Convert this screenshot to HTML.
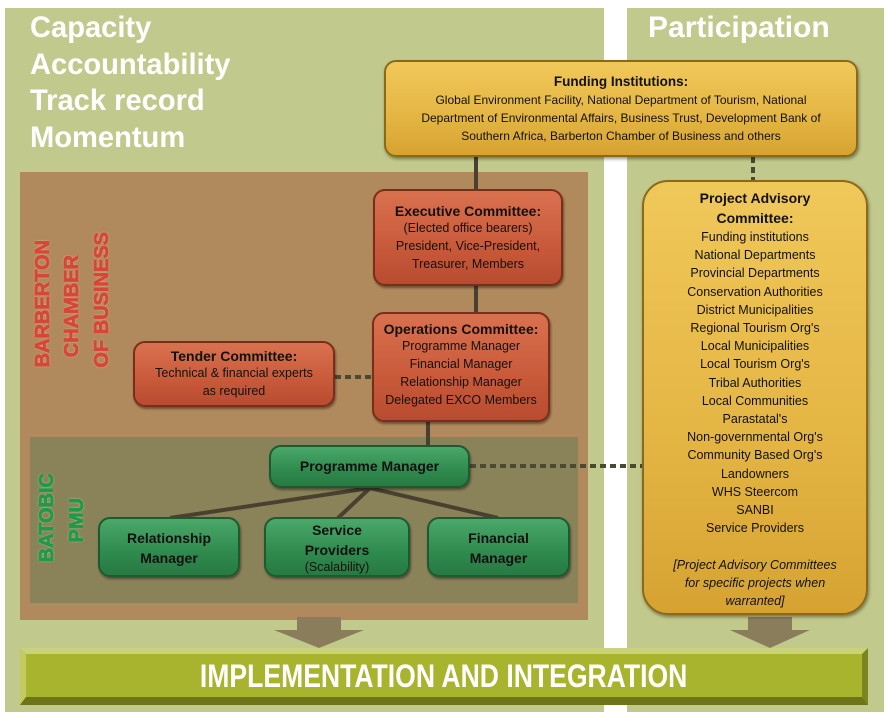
<!DOCTYPE html>
<html><head><meta charset="utf-8"><style>
*{margin:0;padding:0;box-sizing:border-box}
body{width:890px;height:717px;background:#fff;position:relative;overflow:hidden;font-family:"Liberation Sans",sans-serif}
.a{position:absolute}
.box{position:absolute;border-radius:12px;text-align:center;color:#111}
.or{background:linear-gradient(#d9714f,#c85a3a 60%,#b84c30);border:2px solid #7a2e1a;box-shadow:1px 2px 2px rgba(0,0,0,.4)}
.gr{background:linear-gradient(#4aa86a,#2f8a4e 60%,#277a42);border:2px solid #1d5a30;box-shadow:1px 2px 2px rgba(0,0,0,.4)}
.yl{background:linear-gradient(#f0c85a,#e4b543 60%,#d6a332);border:2px solid #8a6a1a;box-shadow:1px 2px 3px rgba(0,0,0,.4)}
.t{font-size:12.5px;line-height:18px}
.b{font-weight:bold;font-size:14px}
.vt{position:absolute;writing-mode:vertical-rl;transform:rotate(180deg);font-weight:bold;font-size:20px;-webkit-text-stroke:0.8px currentColor}
.red{color:#d6473a;text-shadow:0 0 2px #e8c6a0,0 0 1px #e8c6a0}
.grn{color:#1f9a4a;text-shadow:0 0 2px #d8d0a0,0 0 1px #d8d0a0}
.head{position:absolute;color:#fff;font-weight:bold;font-size:30px;line-height:36.5px}
</style></head><body>
<div class="a" style="left:5px;top:8px;width:599px;height:704px;background:#c2c98c"></div>
<div class="a" style="left:627px;top:8px;width:257px;height:704px;background:#c2c98c"></div>
<div class="head" style="left:30px;top:10px;transform:scaleX(0.97);transform-origin:left">Capacity<br>Accountability<br>Track record<br>Momentum</div>
<div class="head" style="left:648px;top:10px;font-size:30px">Participation</div>

<div class="a" style="left:20px;top:172px;width:568px;height:448px;background:#b08a5c"></div>
<div class="a" style="left:30px;top:437px;width:548px;height:166px;background:#8a8258"></div>

<div class="vt red" style="left:32px;top:240px;">BARBERTON</div>
<div class="vt red" style="left:61px;top:255px;">CHAMBER</div>
<div class="vt red" style="left:91px;top:232px;">OF BUSINESS</div>
<div class="vt grn" style="left:36px;top:473px;">BATOBIC</div>
<div class="vt grn" style="left:66px;top:498px;">PMU</div>

<svg class="a" style="left:0;top:0" width="890" height="717">
<g stroke="#4a4030" stroke-width="4">
<line x1="476" y1="156" x2="476" y2="190"/>
<line x1="476" y1="285" x2="476" y2="313"/>
<line x1="428" y1="420" x2="428" y2="446"/>
<line x1="370" y1="488" x2="170" y2="518"/>
<line x1="370" y1="488" x2="338" y2="518"/>
<line x1="370" y1="488" x2="498" y2="518"/>
</g>
<g stroke="#4a4a30" stroke-width="4" stroke-dasharray="6,4">
<line x1="335" y1="377" x2="372" y2="377"/>
<line x1="470" y1="466" x2="642" y2="466"/>
<line x1="753" y1="157" x2="753" y2="180"/>
</g>
<polygon points="297,617 341,617 341,630 364,630 319,648 274,630 297,630" fill="#8a7d5c"/>
<polygon points="748,617 792,617 792,630 810,630 770,648 730,630 748,630" fill="#8a7d5c"/>
<rect x="20" y="648" width="848" height="57" fill="#a8b42e"/>
<polygon points="20,648 868,648 862,654 26,654" fill="#c9d27a"/>
<polygon points="20,648 26,654 26,697 20,705" fill="#c2ca60"/>
<polygon points="868,648 862,654 862,697 868,705" fill="#7d8520"/>
<polygon points="20,705 26,697 862,697 868,705" fill="#6e7418"/>
</svg>
<div class="a" style="left:20px;top:648px;width:848px;height:57px;line-height:57px;text-align:center;color:#fff;font-weight:bold;font-size:32px;"><span style="display:inline-block;transform:scaleX(0.83)">IMPLEMENTATION AND INTEGRATION</span></div>

<div class="box yl" style="left:384px;top:60px;width:474px;height:97px;padding-top:10px">
<div class="b" style="font-size:13.5px;line-height:19px">Funding Institutions:</div>
<div class="t" style="font-size:12px;line-height:18px">Global Environment Facility, National Department of Tourism, National<br>Department of Environmental Affairs, Business Trust, Development Bank of<br>Southern Africa, Barberton Chamber of Business and others</div></div>

<div class="box yl" style="left:642px;top:180px;width:226px;height:435px;border-radius:26px;padding-top:6px">
<div class="b" style="line-height:20px">Project Advisory<br>Committee:</div>
<div class="t" style="line-height:18.2px">Funding institutions<br>National Departments<br>Provincial Departments<br>Conservation Authorities<br>District Municipalities<br>Regional Tourism Org's<br>Local Municipalities<br>Local Tourism Org's<br>Tribal Authorities<br>Local Communities<br>Parastatal's<br>Non-governmental Org's<br>Community Based Org's<br>Landowners<br>WHS Steercom<br>SANBI<br>Service Providers<br><br><i>[Project Advisory Committees<br>for specific projects when<br>warranted]</i></div></div>

<div class="box or" style="left:373px;top:189px;width:190px;height:97px;padding-top:12px">
<div class="b">Executive Committee:</div>
<div class="t">(Elected office bearers)<br>President, Vice-President,<br>Treasurer, Members</div></div>

<div class="box or" style="left:372px;top:312px;width:178px;height:110px;padding-top:7px">
<div class="b">Operations Committee:</div>
<div class="t">Programme Manager<br>Financial Manager<br>Relationship Manager<br>Delegated EXCO Members</div></div>

<div class="box or" style="left:133px;top:341px;width:202px;height:66px;padding-top:5px">
<div class="b">Tender Committee:</div>
<div class="t">Technical &amp; financial experts<br>as required</div></div>

<div class="box gr" style="left:269px;top:445px;width:201px;height:43px;line-height:39px">
<div class="b" style="line-height:39px">Programme Manager</div></div>

<div class="box gr" style="left:98px;top:517px;width:142px;height:60px;padding-top:9px">
<div class="b" style="line-height:20px">Relationship<br>Manager</div></div>
<div class="box gr" style="left:264px;top:517px;width:146px;height:60px;padding-top:1px">
<div class="b" style="line-height:20px">Service<br>Providers</div><div class="t" style="line-height:15px">(Scalability)</div></div>
<div class="box gr" style="left:427px;top:517px;width:143px;height:60px;padding-top:9px">
<div class="b" style="line-height:20px">Financial<br>Manager</div></div>
</body></html>
